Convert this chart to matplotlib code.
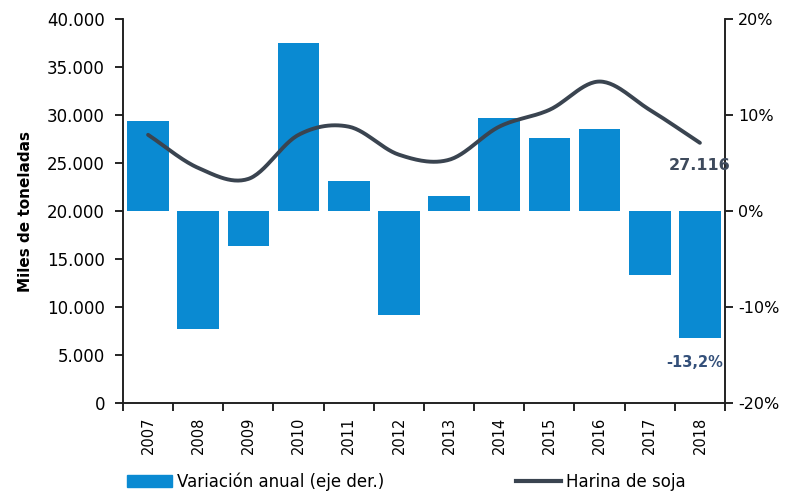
import numpy as np
import matplotlib
matplotlib.use("Agg")
import matplotlib.pyplot as plt
from matplotlib.ticker import FuncFormatter, FixedLocator
from matplotlib.patches import Patch
from matplotlib.lines import Line2D

years = ["2007", "2008", "2009", "2010", "2011", "2012",
         "2013", "2014", "2015", "2016", "2017", "2018"]
harina = [27950, 24500, 23360, 27950, 28800, 25880,
          25350, 28800, 30550, 33500, 30550, 27116]
variacion = [9.4, -12.3, -3.6, 17.5, 3.1, -10.8,
             1.6, 9.7, 7.6, 8.6, -6.7, -13.2]

BAR = "#0a8ad2"
LINE = "#3a4450"


def smooth(xs, ys, n=30):
    # catmull-rom curve through the points, like excel's smoothed line
    xs = np.asarray(xs, float)
    ys = np.asarray(ys, float)
    px = np.concatenate([[2 * xs[0] - xs[1]], xs, [2 * xs[-1] - xs[-2]]])
    py = np.concatenate([[2 * ys[0] - ys[1]], ys, [2 * ys[-1] - ys[-2]]])
    outx, outy = [], []
    t = np.linspace(0, 1, n)
    for i in range(1, len(px) - 2):
        for arr, out in ((px, outx), (py, outy)):
            p0, p1, p2, p3 = arr[i - 1], arr[i], arr[i + 1], arr[i + 2]
            seg = 0.5 * ((2 * p1) + (-p0 + p2) * t
                         + (2 * p0 - 5 * p1 + 4 * p2 - p3) * t ** 2
                         + (-p0 + 3 * p1 - 3 * p2 + p3) * t ** 3)
            out.extend(seg)
    return outx, outy


fig = plt.figure(figsize=(7.9, 4.91), dpi=100)
ax = fig.add_axes([0.1557, 0.179, 0.762, 0.782])
ax2 = ax.twinx()

x = np.arange(len(years))
ax2.bar(x, variacion, width=0.83, color=BAR, zorder=2)
ax2.set_ylim(-20, 20)
ax2.set_yticks([-20, -10, 0, 10, 20])
ax2.yaxis.set_major_formatter(FuncFormatter(lambda v, p: f"{int(v)}%"))

sx, sy = smooth(x, harina)
ax.plot(sx, sy, color=LINE, lw=2.8, solid_capstyle="round", zorder=3)
ax.set_zorder(ax2.get_zorder() + 1)
ax.patch.set_visible(False)

ax.set_ylim(0, 40000)
ax.set_yticks(np.arange(0, 40001, 5000))
ax.yaxis.set_major_formatter(
    FuncFormatter(lambda v, p: f"{int(v):,}".replace(",", ".")))
ax.set_xlim(-0.5, len(years) - 0.5)
ax.set_xticks(x)
ax.set_xticklabels(years, rotation=90, fontsize=10.5)
ax.xaxis.set_minor_locator(FixedLocator(np.arange(-0.5, len(years), 1)))
ax.tick_params(axis="x", which="major", length=0, pad=10)
ax.tick_params(axis="x", which="minor", length=6, width=1.2)
ax.tick_params(axis="y", labelsize=12, length=6, width=1.2, pad=7)
ax2.tick_params(axis="y", labelsize=11.5, length=6, width=1.2)

for a in (ax, ax2):
    a.spines["top"].set_visible(False)
    for s in ("left", "right", "bottom"):
        a.spines[s].set_linewidth(1.2)
        a.spines[s].set_color("#222222")

ax.set_ylabel("Miles de toneladas", fontsize=11, fontweight="bold", labelpad=10)

ax.text(x[-1], harina[-1] - 2400, f"{harina[-1]:,}".replace(",", "."),
        ha="center", va="center", fontsize=11.5, fontweight="bold", color="#3e4a5c")
ax2.text(x[-1] - 0.1, variacion[-1] - 2.6, f"{variacion[-1]:.1f}%".replace(".", ","),
         ha="center", va="center", fontsize=10.5, fontweight="bold", color="#34507a")

handles = [Patch(color=BAR, label="Variación anual (eje der.)"),
           Line2D([], [], color=LINE, lw=3, label="Harina de soja")]
fig.legend(handles=handles, loc="lower left", bbox_to_anchor=(0.142, -0.03),
           ncol=2, frameon=False, fontsize=12, handlelength=2.7,
           handleheight=0.8, columnspacing=7.9, handletextpad=0.3)

fig.savefig("out.png", dpi=100)
